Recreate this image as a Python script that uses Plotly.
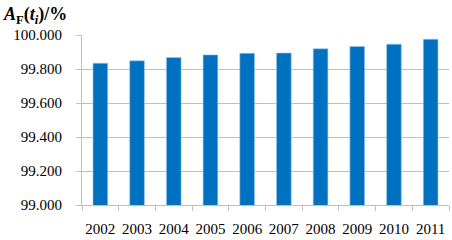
import plotly.graph_objects as go

years = ["2002", "2003", "2004", "2005", "2006", "2007", "2008", "2009", "2010", "2011"]
values = [99.834, 99.848, 99.867, 99.883, 99.892, 99.894, 99.919, 99.933, 99.946, 99.975]
y_ticks = [99.0, 99.2, 99.4, 99.6, 99.8, 100.0]
y_tick_labels = ["99.000", "99.200", "99.400", "99.600", "99.800", "100.000"]

font_family = "Liberation Serif"

fig = go.Figure(
    go.Bar(
        x=years,
        y=values,
        marker=dict(color="#0070C0", line=dict(color="#9cc7ea", width=0.6)),
    )
)

fig.update_layout(
    width=452,
    height=240,
    margin=dict(l=82, r=3, t=35, b=33),
    paper_bgcolor="white",
    plot_bgcolor="white",
    bargap=0.6,
    showlegend=False,
    font=dict(family=font_family, size=15, color="black"),
    annotations=[
        dict(
            text="<b><i>A</i><sub>F</sub>(<i>t</i><sub><i>i</i></sub>)/%</b>",
            xref="paper", yref="paper",
            x=-81 / 367, y=1 + 33 / 172.5,
            xanchor="left", yanchor="top",
            showarrow=False,
            font=dict(family=font_family, size=18, color="black"),
        )
    ],
)

fig.update_xaxes(
    type="category",
    showline=True,
    linecolor="#bfbfbf",
    linewidth=1,
    ticks="outside",
    tickson="boundaries",
    ticklen=5,
    tickcolor="#bfbfbf",
    showgrid=False,
    tickangle=0,
    ticklabelstandoff=10,
    tickfont=dict(family=font_family, size=15, color="black"),
)
fig.update_yaxes(
    range=[99.0, 100.0],
    tickvals=y_ticks,
    ticktext=y_tick_labels,
    showline=True,
    linecolor="#bfbfbf",
    linewidth=1,
    ticks="outside",
    ticklen=5,
    tickcolor="#bfbfbf",
    showgrid=True,
    gridcolor="#bfbfbf",
    gridwidth=1,
    zeroline=False,
    ticklabelstandoff=11,
    tickfont=dict(family=font_family, size=15, color="black"),
)

fig.write_html(
    "out.html",
    config={"displayModeBar": False},
    post_script="document.body.style.margin='0';document.body.style.overflow='hidden';",
)
